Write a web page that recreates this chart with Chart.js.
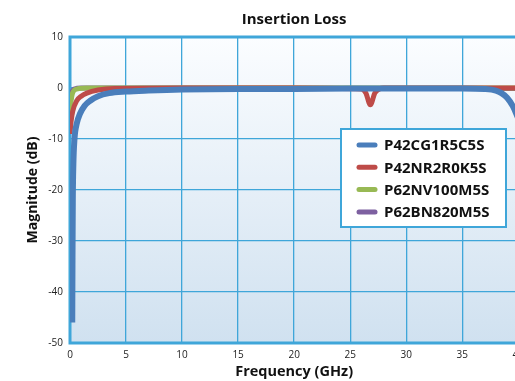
<!DOCTYPE html>
<html>
<head>
<meta charset="utf-8">
<script src="https://cdn.jsdelivr.net/npm/chart.js@4"></script>
<style>
  html, body { margin: 0; padding: 0; background: #fff; overflow: hidden; }
  #wrap { position: relative; width: 530px; height: 381px; }
</style>
</head>
<body>
<div id="wrap"><canvas id="myChart"></canvas></div>
<script>
// insertion loss curves (GHz / dB)
var seriesNames = ['P42CG1R5C5S', 'P42NR2R0K5S', 'P62NV100M5S', 'P62BN820M5S']

var blueFreq = [0.2, 0.22, 0.25, 0.3, 0.4, 0.6, 0.9, 1.3, 1.8, 2.5, 3.5, 5, 7, 10, 15, 20, 25, 30, 35, 37, 38, 38.5, 39, 39.5, 40]
var blueLoss = [-46, -35, -22, -15, -10, -7, -5, -3.5, -2.5, -1.6, -1.0, -0.7, -0.5, -0.3, -0.2, -0.2, -0.1, -0.1, -0.1, -0.2, -0.5, -1.0, -1.9, -3.5, -6]

var redFreq = [0, 0.1, 0.25, 0.6, 1, 1.5, 2.5, 4, 10, 20, 26, 26.4, 26.8, 27.2, 27.6, 28, 35, 40]
var redLoss = [-9, -6.5, -4.5, -2.5, -1.6, -1, -0.4, -0.1, 0, 0, -0.2, -1, -3.3, -1, -0.2, 0, 0, 0]

var greenFreq = [0, 0.1, 0.2, 0.4, 0.8, 1.5, 10, 20, 30, 40]
var greenLoss = [-5, -2.5, -1.2, -0.4, -0.1, 0, 0, 0, 0, 0]

var purpleFreq = [0, 0.15, 0.4, 1, 10, 20, 30, 40]
var purpleLoss = [-3, -1, -0.2, 0, 0, 0, -0.1, -0.1]

var xTicks = [0, 5, 10, 15, 20, 25, 30, 35, 40]
var yTicks = [-50, -40, -30, -20, -10, 0, 10]

var colors = ['#4a7ebb', '#be4b48', '#98b954', '#7d60a0']
var gridBlue = '#3fa6d9'

function pts(xs, ys){
    var out = []
    for (var i = 0; i < xs.length; i++) out.push({x: xs[i], y: ys[i]})
    return out
}

var plotDeco = {
    id: 'plotDeco',
    beforeDraw: function(chart){
        var a = chart.chartArea, c = chart.ctx
        var g = c.createLinearGradient(0, a.top, 0, a.bottom)
        g.addColorStop(0, '#fbfdff')
        g.addColorStop(1, '#d0e1f0')
        c.save()
        c.fillStyle = g
        c.fillRect(a.left, a.top, a.right - a.left, a.bottom - a.top)
        c.restore()
    },
    beforeDatasetsDraw: function(chart){
        var a = chart.chartArea, c = chart.ctx
        c.save()
        c.strokeStyle = gridBlue
        c.lineWidth = 3
        c.strokeRect(a.left, a.top, a.right - a.left, a.bottom - a.top)
        c.restore()
    },
    afterDraw: function(chart){
        // legend box inside the plot
        var c = chart.ctx
        var bx = 341, by = 129, bw = 165, bh = 98
        c.save()
        c.fillStyle = '#ffffff'
        c.fillRect(bx, by, bw, bh)
        c.strokeStyle = gridBlue
        c.lineWidth = 2
        c.strokeRect(bx, by, bw, bh)
        c.font = 'bold 15px "Open Sans"'
        c.textBaseline = 'middle'
        chart.data.datasets.forEach(function(ds, i){
            var yy = by + 16 + i * 22.3
            c.strokeStyle = ds.borderColor
            c.lineWidth = 5
            c.lineCap = 'round'
            c.beginPath()
            c.moveTo(359, yy)
            c.lineTo(375, yy)
            c.stroke()
            c.fillStyle = '#111'
            c.fillText(ds.label, 384, yy + 1)
        })
        c.restore()
    }
}

var ctx = document.getElementById('myChart').getContext('2d')
var Chart1 = new Chart(ctx, {
    type: 'line',
    plugins: [plotDeco],
    data: {
        datasets: [
            {label: seriesNames[0], data: pts(blueFreq, blueLoss), borderColor: colors[0], borderWidth: 6},
            {label: seriesNames[1], data: pts(redFreq, redLoss), borderColor: colors[1], borderWidth: 5},
            {label: seriesNames[2], data: pts(greenFreq, greenLoss), borderColor: colors[2], borderWidth: 5},
            {label: seriesNames[3], data: pts(purpleFreq, purpleLoss), borderColor: colors[3], borderWidth: 5}
        ]
    },
    options: {
        responsive: true,
        maintainAspectRatio: false,
        animation: false,
        layout: {padding: {left: 0, right: 10, top: 0, bottom: 0}},
        elements: {
            point: {radius: 0},
            line: {cubicInterpolationMode: 'monotone', borderCapStyle: 'butt'}
        },
        plugins: {
            legend: {display: false},
            tooltip: {enabled: false},
            title: {
                display: true,
                fullSize: false,
                text: 'Insertion Loss',
                color: '#111',
                font: {family: '"Open Sans"', size: 15, weight: 'bold'},
                padding: {top: 10.5, bottom: 8.5}
            }
        },
        scales: {
            x: {
                type: 'linear',
                min: 0,
                max: 40,
                afterBuildTicks: function(s){ s.ticks = xTicks.map(function(v){ return {value: v} }) },
                afterFit: function(s){ s.height = 38 },
                grid: {color: gridBlue, lineWidth: 1.3, drawTicks: false},
                border: {display: false},
                ticks: {color: '#222', font: {family: '"Open Sans"', size: 10}, padding: 6, maxRotation: 0},
                title: {display: true, text: 'Frequency (GHz)', color: '#111',
                        font: {family: '"Open Sans"', size: 14.5, weight: 'bold'}, padding: {top: 1.3, bottom: 0}}
            },
            y: {
                min: -50,
                max: 10,
                afterBuildTicks: function(s){ s.ticks = yTicks.map(function(v){ return {value: v} }) },
                afterFit: function(s){ s.width = 70 },
                grid: {color: gridBlue, lineWidth: 1.3, drawTicks: false},
                border: {display: false},
                ticks: {color: '#222', font: {family: '"Open Sans"', size: 10}, padding: 7},
                title: {display: true, text: 'Magnitude (dB)', color: '#111',
                        font: {family: '"Open Sans"', size: 14, weight: 'bold'}, padding: {top: 25, bottom: 0}}
            }
        }
    }
})
</script>
</body>
</html>
